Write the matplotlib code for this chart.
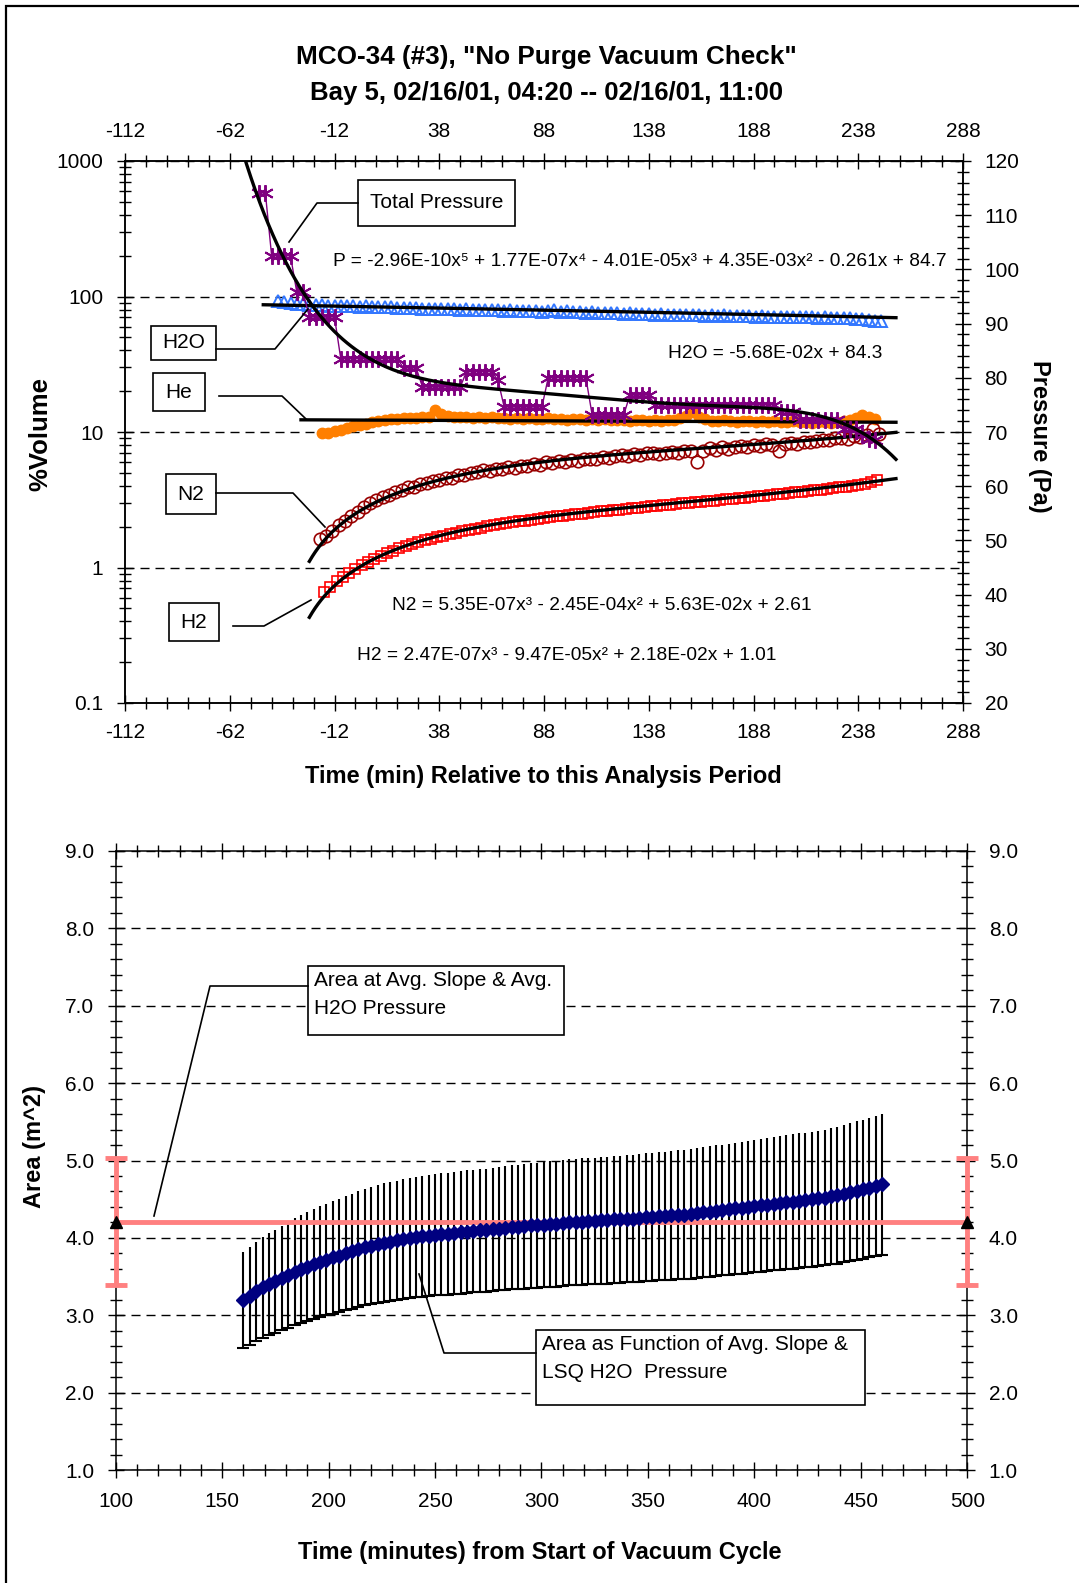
import numpy as np
import matplotlib
matplotlib.use("Agg")
import matplotlib.pyplot as plt
from matplotlib.patches import Rectangle
from matplotlib.lines import Line2D
from matplotlib.ticker import FixedLocator, LogLocator, MultipleLocator, FuncFormatter, NullFormatter

plt.rcParams['font.family'] = ['Liberation Sans', 'DejaVu Sans']
plt.rcParams['axes.unicode_minus'] = False

W, H = 1079, 1583

# ---------------- top chart: minutes relative to analysis period ----------------
# total pressure (Pa), one reading every 3 min starting at t = -48
p_t0 = -48
p_total = ([114.1] * 2 + [102.5] * 4 + [95.8] * 2 + [91.2] * 5 + [83.5] * 10 +
           [81.8] * 3 + [78.3] * 7 + [81.1] * 5 + [79.6] + [74.6] * 7 + [80.0] * 7 +
           [73.1] * 6 + [76.8] * 4 + [75.0] * 20 + [73.7] * 3 + [72.2] * 7 +
           [70.6] * 3 + [69.5, 68.7, 68.5])

# %volume readings, every 3 min
h2o_t0 = -39
h2o = [93.0, 91.5, 90.0, 88.5, 88.0, 87.0, 86.5, 86.0, 85.5, 85.0, 85.5, 84.5, 84.5,
       84.0, 84.5, 83.5, 83.5, 83.0, 83.5, 82.5, 82.5, 82.0, 82.5, 81.5, 81.5, 81.0,
       81.5, 80.5, 81.0, 80.0, 80.5, 80.0, 79.5, 80.0, 79.0, 79.5, 78.5, 79.0, 78.0,
       78.5, 77.5, 78.0, 77.0, 77.5, 79.0, 77.0, 77.5, 76.5, 77.0, 76.0, 76.5, 75.5,
       76.0, 75.0, 75.5, 74.5, 75.0, 74.0, 74.5, 74.0, 73.5, 74.0, 73.0, 73.5, 72.5,
       73.0, 72.5, 73.0, 72.0, 72.5, 72.0, 72.5, 71.5, 72.0, 71.5, 72.0, 71.0, 71.5,
       70.5, 71.0, 70.5, 71.0, 70.0, 70.5, 70.0, 70.5, 69.5, 70.0, 69.5, 69.0, 69.5,
       69.0, 68.5, 68.0, 67.5, 66.5, 66.0]

he_t0 = -18
he = [9.8, 9.9, 10.1, 10.4, 10.7, 11.0, 11.2, 11.5, 11.8, 12.0, 12.2, 12.4, 12.5,
      12.6, 12.7, 12.7, 12.8, 13.0, 14.5, 13.6, 13.2, 12.9, 12.8, 12.9, 12.7, 12.8,
      12.7, 12.9, 12.6, 12.7, 12.5, 12.6, 12.5, 12.7, 12.4, 12.5, 12.6, 12.4, 12.5,
      12.3, 12.4, 12.5, 12.3, 12.4, 12.2, 12.4, 12.3, 12.2, 12.3, 12.1, 12.2, 12.3,
      12.1, 12.2, 12.0, 12.2, 12.3, 12.6, 13.2, 14.0, 13.0, 12.4, 12.1, 12.0, 12.2,
      12.0, 11.9, 12.1, 12.0, 11.9, 12.0, 11.8, 12.0, 11.9, 11.8, 12.0, 11.8, 11.9,
      11.7, 11.9, 11.8, 11.7, 11.9, 12.0, 12.3, 12.6, 13.3, 12.9, 12.5]

n2_t0 = -19
n2 = [1.62, 1.72, 1.85, 2.05, 2.2, 2.4, 2.55, 2.8, 3.0, 3.15, 3.3, 3.45, 3.6, 3.75,
      3.9, 3.95, 4.15, 4.2, 4.35, 4.45, 4.6, 4.55, 4.8, 4.85, 5.0, 5.05, 5.2, 5.15,
      5.35, 5.3, 5.5, 5.45, 5.65, 5.6, 5.8, 5.75, 6.0, 5.9, 6.1, 6.0, 6.2, 6.15, 6.3,
      6.35, 6.3, 6.5, 6.45, 6.6, 6.75, 6.6, 6.85, 6.8, 6.95, 7.0, 6.9, 7.05, 7.15,
      7.0, 7.25, 7.2, 6.0, 7.3, 7.6, 7.4, 7.7, 7.5, 7.8, 7.9, 7.7, 8.0, 7.9, 8.1, 8.0,
      7.2, 8.2, 8.3, 8.1, 8.5, 8.4, 8.6, 8.8, 8.7, 9.0, 9.1, 8.9, 9.3, 9.2, 9.5, 10.5,
      9.6]

h2_t0 = -17
h2 = [0.66, 0.72, 0.79, 0.85, 0.91, 0.97, 1.04, 1.10, 1.16, 1.22, 1.27, 1.33, 1.40,
      1.44, 1.49, 1.54, 1.59, 1.63, 1.68, 1.72, 1.77, 1.81, 1.85, 1.89, 1.93, 1.97,
      2.01, 2.05, 2.08, 2.12, 2.15, 2.19, 2.22, 2.26, 2.29, 2.32, 2.35, 2.38, 2.41,
      2.44, 2.47, 2.50, 2.53, 2.56, 2.59, 2.62, 2.65, 2.67, 2.70, 2.73, 2.76, 2.79,
      2.82, 2.85, 2.88, 2.91, 2.94, 2.97, 3.00, 3.03, 3.06, 3.09, 3.12, 3.15, 3.18,
      3.22, 3.25, 3.28, 3.32, 3.35, 3.39, 3.43, 3.46, 3.50, 3.54, 3.58, 3.62, 3.66,
      3.71, 3.75, 3.80, 3.85, 3.90, 3.95, 4.00, 4.06, 4.12, 4.25, 4.45]

# least-squares trend coefficients, highest power first
p_fit = [-2.96e-10, 1.77e-07, -4.01e-05, 4.35e-03, -0.261, 84.7]
h2o_fit = [-5.68e-02, 84.3]
n2_fit = [5.35e-07, -2.45e-04, 5.63e-02, 2.61]
h2_fit = [2.47e-07, -9.47e-05, 2.18e-02, 1.01]
he_fit_ends = [12.3, 11.8]

# ---------------- bottom chart: area vs time from start of vacuum ----------------
area_t0 = 160
area = [3.20, 3.25, 3.31, 3.36, 3.40, 3.44, 3.48, 3.52, 3.56, 3.60, 3.63, 3.66, 3.69,
        3.72, 3.75, 3.77, 3.80, 3.83, 3.86, 3.88, 3.90, 3.92, 3.94, 3.95, 3.97, 3.99,
        4.00, 4.01, 4.02, 4.03, 4.04, 4.05, 4.05, 4.06, 4.07, 4.08, 4.09, 4.10, 4.10,
        4.11, 4.12, 4.13, 4.14, 4.14, 4.15, 4.16, 4.16, 4.17, 4.18, 4.18, 4.19, 4.20,
        4.20, 4.21, 4.22, 4.22, 4.23, 4.23, 4.24, 4.24, 4.25, 4.25, 4.26, 4.27, 4.27,
        4.28, 4.28, 4.29, 4.30, 4.30, 4.31, 4.32, 4.33, 4.34, 4.35, 4.36, 4.37, 4.38,
        4.39, 4.40, 4.41, 4.42, 4.43, 4.44, 4.45, 4.46, 4.47, 4.48, 4.49, 4.50, 4.51,
        4.52, 4.54, 4.55, 4.57, 4.59, 4.61, 4.63, 4.65, 4.67, 4.69]
avg_area = 4.21
err_pct = 19.4   # percentage error bars


def fx(x):
    return x / W


def fy(y):
    return 1 - y / H


def series_t(t0, vals):
    return t0 + 3 * np.arange(len(vals))


fig = plt.figure(figsize=(W / 100, H / 100), dpi=100)

# outer frame (open on the right and bottom edges)
fig.add_artist(Rectangle((fx(6), fy(1700)), (1200) / W, (1694) / H, transform=fig.transFigure,
                         fill=False, ec='black', lw=1.6))

dash = (0, (6.5, 4.3))
TICK = dict(direction='inout', colors='black', labelsize=15, width=1)

# ---- top axes ----
ax = fig.add_axes([fx(125), fy(703), (963 - 125) / W, (703 - 161) / H])
ax.set_xlim(-112, 288)
ax.set_yscale('log')
ax.set_ylim(0.1, 1000)
ax.xaxis.set_major_locator(FixedLocator(np.arange(-112, 289, 50)))
ax.xaxis.set_minor_locator(FixedLocator(np.arange(-112, 289, 10)))
ax.yaxis.set_major_locator(LogLocator(10))
ax.yaxis.set_minor_locator(LogLocator(10, subs=np.arange(2, 10)))
ax.yaxis.set_major_formatter(FuncFormatter(lambda v, p: f'{v:g}'))
ax.yaxis.set_minor_formatter(NullFormatter())
ax.tick_params(axis='x', which='both', top=True, labeltop=True, pad=9, **TICK)
ax.tick_params(axis='y', which='both', pad=10, **TICK)
ax.tick_params(which='major', length=11)
ax.tick_params(which='minor', length=8)
ax.grid(axis='y', which='major', ls=dash, lw=1, color='black')
ax.set_axisbelow(True)
for s in ax.spines.values():
    s.set_linewidth(1.1)

ax.plot(series_t(h2o_t0, h2o), h2o, ls='none', marker='^', ms=8, mfc='none',
        mec='#3377FF', mew=1.4)
ax.plot(series_t(he_t0, he), he, ls='none', marker='o', ms=7.5, color='#FF7F00')
ax.plot(series_t(n2_t0, n2), n2, ls='none', marker='o', ms=9, mfc='none',
        mec='#990000', mew=1.2)
ax.plot(series_t(h2_t0, h2), h2, ls='none', marker='s', ms=7, mfc='none',
        mec='#FF0000', mew=1.2)

t = np.linspace(-46, 256, 200)
ax.plot(t, np.polyval(h2o_fit, t), color='black', lw=2.4)
ax.plot([-28, 256], he_fit_ends, color='black', lw=2.4)
t = np.linspace(-24, 256, 200)
ax.plot(t, np.polyval(n2_fit, t), color='black', lw=2.4)
ax.plot(t, np.polyval(h2_fit, t), color='black', lw=2.4)

ax2 = ax.twinx()
ax2.set_ylim(20, 120)
ax2.yaxis.set_major_locator(MultipleLocator(10))
ax2.yaxis.set_minor_locator(MultipleLocator(2))
ax2.tick_params(axis='y', which='both', pad=10, **TICK)
ax2.tick_params(which='major', length=11)
ax2.tick_params(which='minor', length=8)
for s in ax2.spines.values():
    s.set_linewidth(1.1)
ax2.plot(series_t(p_t0, p_total), p_total, color='#800080', lw=1, marker=(6, 2, 0),
         ms=12, mew=1.4)
t = np.linspace(-56, 256, 300)
ax2.plot(t, np.polyval(p_fit, t), color='black', lw=2.4)

# ---- bottom axes ----
ax3 = fig.add_axes([fx(115.7), fy(1470), (967.3 - 115.7) / W, (1470 - 851) / H])
ax3.set_xlim(100, 500)
ax3.set_ylim(1, 9)
ax3.xaxis.set_major_locator(MultipleLocator(50))
ax3.xaxis.set_minor_locator(MultipleLocator(10))
ax3.yaxis.set_major_locator(MultipleLocator(1))
ax3.yaxis.set_minor_locator(MultipleLocator(0.2))
ax3.yaxis.set_major_formatter(FuncFormatter(lambda v, p: f'{v:.1f}'))
ax3.tick_params(which='both', top=True, right=True, labelright=True, pad=10, **TICK)
ax3.tick_params(which='major', length=11)
ax3.tick_params(which='minor', length=8)
ax3.grid(axis='y', which='major', ls=dash, lw=1, color='black')
ax3.set_axisbelow(True)
for s in ax3.spines.values():
    s.set_linewidth(1.1)

xa = series_t(area_t0, area)
ya = np.array(area)
err = ya * err_pct / 100
ax3.vlines(xa, ya - err, ya + err, color='black', lw=1.5, zorder=2)
ax3.plot(xa, ya - err, ls='none', marker='_', ms=9, mew=1.5, color='black', zorder=2)

avg_err = avg_area * err_pct / 100
ax3.plot([100, 500], [avg_area, avg_area], color='#FF8080', lw=3.5, zorder=3,
         clip_on=False)
ax3.errorbar([100, 500], [avg_area, avg_area], yerr=avg_err, fmt='none',
             ecolor='#FF8080', elinewidth=3.5, capsize=8, capthick=3.5,
             clip_on=False, zorder=3)
ax3.plot([100, 500], [avg_area, avg_area], ls='none', marker='^', ms=9,
         color='black', clip_on=False, zorder=6)
ax3.plot(xa, ya, color='#000080', lw=2.5, marker='D', ms=7.5, zorder=4)

# ---- titles and axis labels ----
fig.text(fx(546), fy(57), 'MCO-34 (#3), "No Purge Vacuum Check"', ha='center',
         va='center', fontsize=18.8, fontweight='bold')
fig.text(fx(546), fy(93), 'Bay 5, 02/16/01, 04:20 -- 02/16/01, 11:00', ha='center',
         va='center', fontsize=18.5, fontweight='bold')
fig.text(fx(543), fy(776), 'Time (min) Relative to this Analysis Period', ha='center',
         va='center', fontsize=17, fontweight='bold')
fig.text(fx(40), fy(434), '%Volume', rotation=90, ha='center', va='center',
         fontsize=18.5, fontweight='bold')
fig.text(fx(1040), fy(436), 'Pressure (Pa)', rotation=270, ha='center', va='center',
         fontsize=17, fontweight='bold')
fig.text(fx(35), fy(1146), 'Area (m^2)', rotation=90, ha='center', va='center',
         fontsize=17, fontweight='bold')
fig.text(fx(540), fy(1553), 'Time (minutes) from Start of Vacuum Cycle', ha='center',
         va='center', fontsize=17, fontweight='bold')

# trend equations
eq = dict(fontsize=13.8, va='center', ha='left')
fig.text(fx(333), fy(261),
         'P = -2.96E-10x\u2075 + 1.77E-07x\u2074 - 4.01E-05x\u00b3 + 4.35E-03x\u00b2 - 0.261x + 84.7', **eq)
fig.text(fx(668), fy(354), 'H2O = -5.68E-02x + 84.3', **eq)
fig.text(fx(392), fy(606), 'N2 = 5.35E-07x\u00b3 - 2.45E-04x\u00b2 + 5.63E-02x + 2.61', **eq)
fig.text(fx(357), fy(656), 'H2 = 2.47E-07x\u00b3 - 9.47E-05x\u00b2 + 2.18E-02x + 1.01', **eq)


def label_box(x0, y0, x1, y1, lines, leader, align='center'):
    fig.add_artist(Rectangle((fx(x0), fy(y1)), (x1 - x0) / W, (y1 - y0) / H,
                             transform=fig.transFigure, fc='white', ec='black', lw=1.2,
                             zorder=5))
    if align == 'center':
        fig.text(fx((x0 + x1) / 2), fy((y0 + y1) / 2), lines[0], ha='center',
                 va='center', fontsize=15, zorder=6)
    else:
        for i, s in enumerate(lines):
            fig.text(fx(x0 + 6), fy(y0 + 14 + 28 * i), s, ha='left', va='center',
                     fontsize=15, zorder=6)
    xs, ys = zip(*leader)
    fig.add_artist(Line2D([fx(v) for v in xs], [fy(v) for v in ys],
                          transform=fig.transFigure, color='black', lw=1.2, zorder=5))


label_box(358, 180, 515, 226, ['Total Pressure'], [(358, 203), (317, 203), (289, 242)])
label_box(151, 326, 216, 360, ['H2O'], [(216, 349), (275, 349), (308, 309)])
label_box(153, 373, 205, 411, ['He'], [(219, 396), (282, 396), (306, 419)])
label_box(166, 474, 216, 514, ['N2'], [(216, 493), (293, 493), (325, 527)])
label_box(169, 603, 219, 641, ['H2'], [(233, 626), (264, 626), (311, 600)])
label_box(308, 966, 564, 1035, ['Area at Avg. Slope & Avg.', 'H2O Pressure'],
          [(308, 986), (210, 986), (154, 1216)], align='left')
label_box(536, 1330, 865, 1405, ['Area as Function of Avg. Slope &', 'LSQ H2O  Pressure'],
          [(536, 1353), (444, 1353), (419, 1274)], align='left')

fig.savefig('out.png', dpi=100)
